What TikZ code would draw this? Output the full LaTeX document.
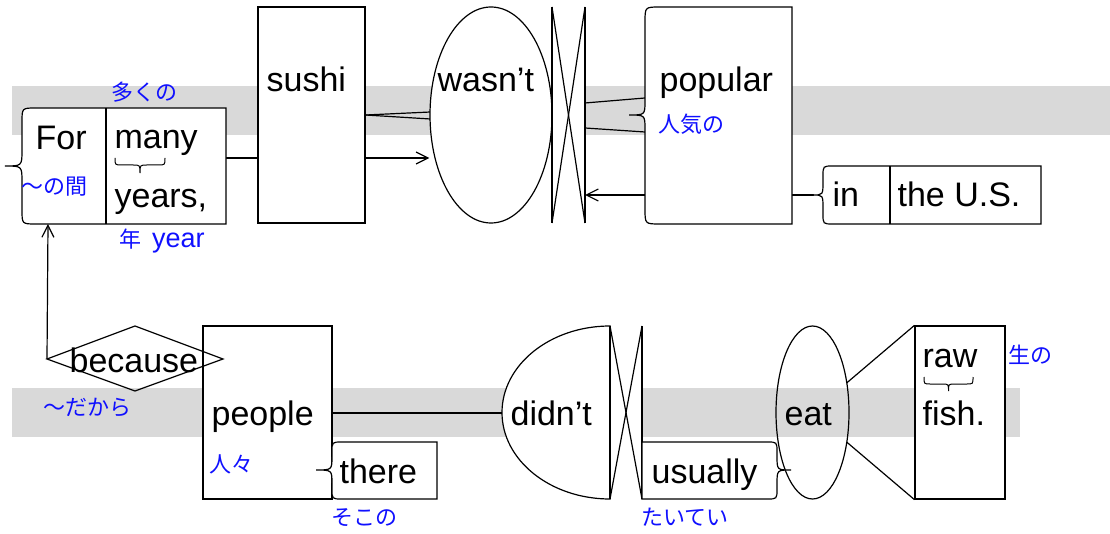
\documentclass[tikz,border=0pt]{standalone}
\usepackage{fontspec}
\setmainfont{Liberation Sans}
\newfontfamily\jp{Noto Sans CJK JP}
\usetikzlibrary{shapes.geometric,arrows.meta,calc}
\definecolor{band}{HTML}{D9D9D9}
\definecolor{jblue}{HTML}{1010FF}
\pgfdeclarelayer{back}
\pgfdeclarelayer{conn}
\pgfsetlayers{back,conn,main}
\begin{document}
\begin{tikzpicture}[x=1pt,y=-1pt,
  every path/.append style={line width=1.2pt},
  wbox/.style={draw, fill=white, rectangle, inner sep=0pt},
  oval/.style={draw, fill=white, ellipse, inner sep=0pt},
  word/.style={inner sep=0pt, anchor=base west, font=\fontsize{34}{40}\selectfont},
  gloss/.style={inner sep=0pt, anchor=west, text=jblue, font=\jp\fontsize{22}{26}\selectfont},
  arr/.style={-{Straight Barb[length=12pt,width=12pt]}},
  smallbrace/.style={line width=1pt}
]
\useasboundingbox (0,0) rectangle (1110,534);
% gray bands
\begin{pgfonlayer}{back}
\fill[band] (12,86) rectangle (1110,135);
\fill[band] (12,388) rectangle (1020,437);
\end{pgfonlayer}

% named points
\coordinate (manyE) at (226,158);
\coordinate (forS) at (48,224);
\coordinate (becW) at (47,359);
\coordinate (popW) at (645,195);
\coordinate (popE) at (792,195);
\coordinate (inW) at (814,195);
\coordinate (xaR) at (585,195);
\coordinate (xaT) at (585,103);
\coordinate (xaB) at (585,128);
\coordinate (popT) at (645,98);
\coordinate (popB) at (645,132);
\coordinate (peopleE) at (332,413);
\coordinate (didntW) at (502,413);

% sushi / wasn't nodes
\node[wbox, minimum width=107pt, minimum height=216pt] (sushi) at (311.5,115) {};
\node[oval, minimum width=122pt, minimum height=216pt] (wasnt) at (491,115) {};

% connectors (below the shapes)
\begin{pgfonlayer}{conn}
\draw[arr, line width=1.2pt] (manyE) -- (wasnt.west |- manyE);
\draw[line width=1.2pt] (sushi.east) -- ($(wasnt.west)+(1,-3)$);
\draw[line width=1.2pt] (sushi.east) -- ($(wasnt.west)+(1,4)$);
\draw[arr, line width=1.2pt] (becW) -- (forS);
\draw[line width=1.2pt] (xaT) -- (popT);
\draw[line width=1.2pt] (xaB) -- (popB);
\draw[arr, line width=1.2pt] (popW) -- (xaR);
\draw[line width=1.2pt] (popE) -- (inW);
\draw[line width=1.2pt] (peopleE) -- (didntW);
\end{pgfonlayer}

% For / many years box with left brace
\draw[fill=white] (36,108) -- (226,108) -- (226,224) -- (36,224)
  .. controls (22,224) .. (22,210) -- (22,182)
  .. controls (22,166) .. (5,166)
  .. controls (22,166) .. (22,150) -- (22,122)
  .. controls (22,108) .. (36,108) -- cycle;
\draw (106,108) -- (106,224);
\node[word] (for) at (35,150) {For};
\node[word] (many) at (114,149) {many};
\node[word] (years) at (114,208) {years,};
\draw[smallbrace] (115,158) .. controls (115,165) .. (122,165) -- (133,165)
  .. controls (140,165) .. (140,173) .. controls (140,165) .. (147,165) -- (158,165)
  .. controls (165,165) .. (165,158);
\node[gloss] (g-no-aida) at (21,187) {～の間};
\node[gloss] (g-ooku) at (111,92) {多くの};
\node[gloss, font=\fontsize{27}{30}\selectfont] (g-year) at (119,241) {{\jp\fontsize{22}{26}\selectfont 年}\hspace{3pt} year};

% sushi text
\node[word] (tsushi) at (266,92) {sushi};
\node[word] (twasnt) at (437,92) {wasn’t};

% X shape 1
\fill[white] (552,7) rectangle (585,223);
\draw (552,7) -- (552,223);
\draw (585,7) -- (585,223);
\draw (552,7) -- (585,223);
\draw (585,7) -- (552,223);

% popular box
\draw[fill=white] (660,7) -- (792,7) -- (792,224) -- (660,224)
  .. controls (645,224) .. (645,209) -- (645,129)
  .. controls (645,115) .. (629,115)
  .. controls (645,115) .. (645,101) -- (645,22)
  .. controls (645,7) .. (660,7) -- cycle;
\node[word] (tpopular) at (659,92) {popular};
\node[gloss] (g-ninki) at (658,124) {人気の};

% in the U.S. box
\draw[fill=white] (833,166) -- (1041,166) -- (1041,224) -- (833,224)
  .. controls (823,224) .. (823,214) -- (823,209)
  .. controls (823,195) .. (813,195)
  .. controls (823,195) .. (823,181) -- (823,176)
  .. controls (823,166) .. (833,166) -- cycle;
\draw (890,166) -- (890,224);
\node[word] (tin) at (832,207) {in};
\node[word] (tus) at (897,207) {the U.S.};

% people box
\node[wbox, minimum width=129pt, minimum height=173pt] (people) at (267.5,412.5) {};
\node[word] (tpeople) at (211,425) {people};
\node[gloss] (g-hitobito) at (209,464) {人々};

% because diamond
\draw (becW) -- (135,326) -- (223,359) -- (135,391) -- cycle;
\node[word] (tbecause) at (69,372) {because};
\node[gloss] (g-dakara) at (43,408) {～だから};

% there box
\draw[fill=white] (342,442) -- (437,442) -- (437,499) -- (342,499)
  .. controls (332,499) .. (332,489) -- (332,484)
  .. controls (332,470) .. (316,470)
  .. controls (332,470) .. (332,456) -- (332,452)
  .. controls (332,442) .. (342,442) -- cycle;
\node[word] (tthere) at (339,483) {there};
\node[gloss] (g-sokono) at (331,518) {そこの};

% didn't half ellipse
\draw[fill=white] (610,326) arc[start angle=-90, end angle=-270, x radius=108, y radius=86.5] -- cycle;
\node[word] (tdidnt) at (510,425) {didn’t};

% X shape 2
\fill[white] (610,326) rectangle (642,499);
\draw (610,326) -- (610,499);
\draw (642,326) -- (642,499);
\draw (610,326) -- (642,499);
\draw (642,326) -- (610,499);

% eat ellipse
\node[draw, ellipse, inner sep=0pt, minimum width=73pt, minimum height=173pt] (eat) at (812.5,412.5) {};
\node[word] (teat) at (784,425) {eat};

% usually box with right brace
\draw[fill=white] (642,442) -- (767,442)
  .. controls (777,442) .. (777,452) -- (777,456)
  .. controls (777,470) .. (791,470)
  .. controls (777,470) .. (777,484) -- (777,489)
  .. controls (777,499) .. (767,499) -- (642,499) -- cycle;
\node[word] (tusually) at (651,483) {usually};
\node[gloss] (g-taitei) at (641,517) {たいてい};

% raw fish box
\node[wbox, minimum width=90pt, minimum height=173pt] (rawfish) at (960,412.5) {};
\draw (eat.east |- 0,383) ++(-3,0) coordinate (eatT) -- (rawfish.north west);
\draw (eat.east |- 0,442) ++(-3,0) coordinate (eatB) -- (rawfish.south west);
\node[word] (traw) at (922,367) {raw};
\draw[smallbrace] (924,377) .. controls (924,384) .. (930,384) -- (942,384)
  .. controls (948.5,384) .. (948.5,391) .. controls (948.5,384) .. (955,384) -- (967,384)
  .. controls (973,384) .. (973,377);
\node[word] (tfish) at (922,425) {fish.};
\node[gloss] (g-nama) at (1008,355) {生の};
\end{tikzpicture}
\end{document}
